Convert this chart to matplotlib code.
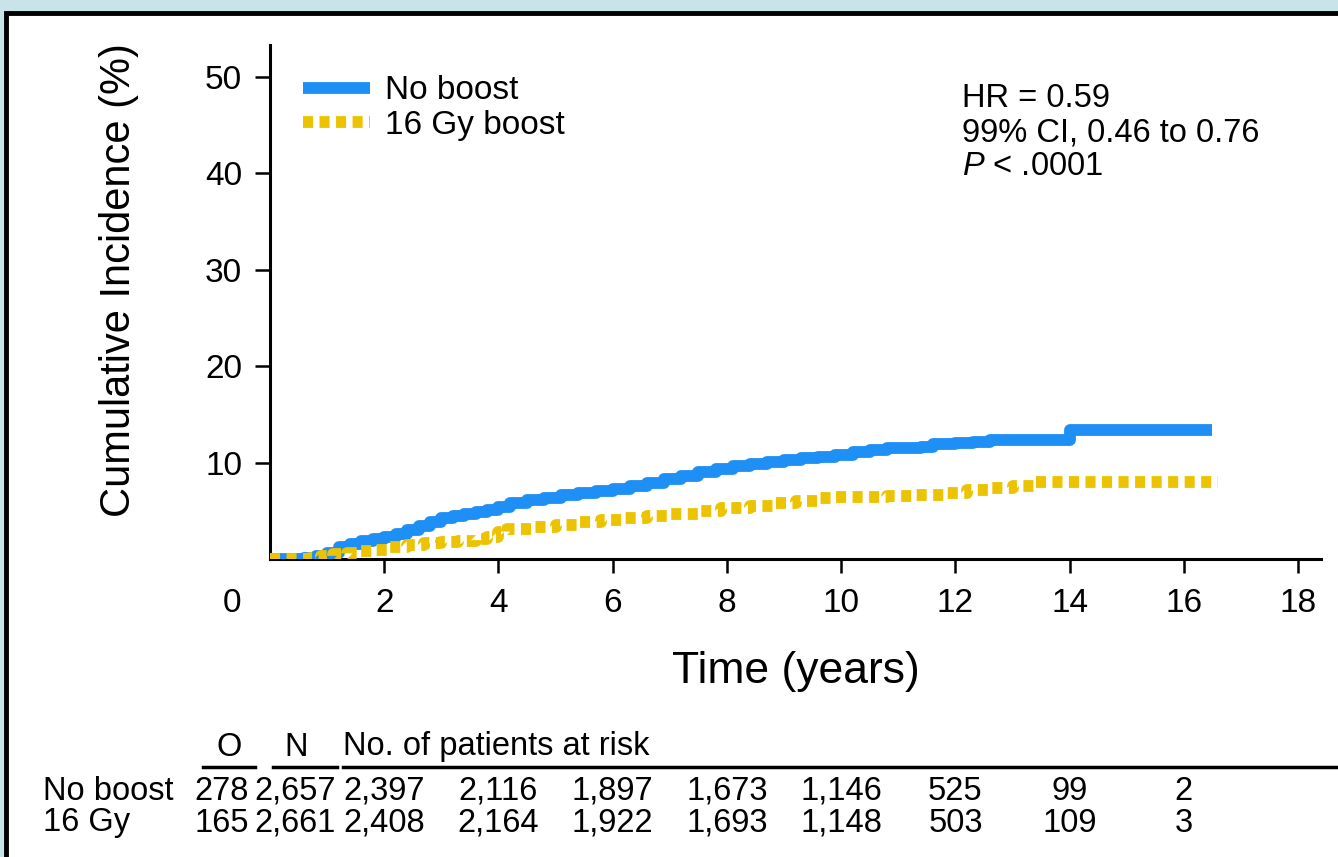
import matplotlib
matplotlib.use("Agg")
import matplotlib.pyplot as plt
from matplotlib.patches import Rectangle
from matplotlib.lines import Line2D
import matplotlib.transforms as mtransforms

# cumulative incidence curves (step data)
t_noboost = [0.0, 0.6, 0.8, 1.0, 1.2, 1.4, 1.6, 1.8, 2.0, 2.2, 2.4, 2.6, 2.8, 3.0,
             3.2, 3.4, 3.6, 3.8, 4.0, 4.2, 4.5, 4.8, 5.1, 5.4, 5.7, 6.0, 6.3, 6.6,
             6.9, 7.2, 7.5, 7.8, 8.1, 8.4, 8.7, 9.0, 9.3, 9.6, 9.9, 10.2, 10.5,
             10.8, 11.1, 11.4, 11.6, 12.0, 12.3, 12.6, 14.0, 16.5]
ci_noboost = [0.0, 0.1, 0.3, 0.6, 1.2, 1.6, 1.9, 2.1, 2.3, 2.6, 3.0, 3.4, 3.8, 4.2,
              4.5, 4.7, 4.9, 5.1, 5.4, 5.8, 6.1, 6.3, 6.6, 6.8, 7.0, 7.3, 7.6, 7.9,
              8.3, 8.6, 9.0, 9.3, 9.6, 9.9, 10.1, 10.3, 10.5, 10.6, 10.8, 11.1, 11.3,
              11.5, 11.5, 11.6, 11.9, 12.0, 12.1, 12.3, 13.4, 13.4]

t_boost = [0.0, 0.7, 0.9, 1.1, 1.35, 1.6, 1.8, 2.1, 2.4, 2.7, 3.0, 3.3, 3.6, 3.8,
           4.0, 4.15, 4.6, 5.0, 5.4, 5.8, 6.2, 6.6, 7.0, 7.5, 7.9, 8.4, 8.8, 9.2,
           9.6, 9.9, 10.8, 11.3, 11.8, 12.2, 12.6, 13.0, 13.4, 16.6]
ci_boost = [0.0, 0.1, 0.3, 0.5, 0.6, 0.8, 0.9, 1.2, 1.4, 1.7, 1.8, 1.9, 2.1, 2.3,
            2.8, 3.1, 3.3, 3.5, 3.8, 4.0, 4.2, 4.5, 4.7, 5.0, 5.3, 5.5, 5.8, 6.0,
            6.3, 6.4, 6.5, 6.6, 6.8, 7.2, 7.4, 7.6, 8.0, 8.0]

x_ticks = [2, 4, 6, 8, 10, 12, 14, 16, 18]
y_ticks = [10, 20, 30, 40, 50]

# numbers at risk table
risk_times = [2, 4, 6, 8, 10, 12, 14, 16]
groups = ["No boost", "16 Gy"]
observed = ["278", "165"]
n_total = ["2,657", "2,661"]
at_risk_noboost = ["2,397", "2,116", "1,897", "1,673", "1,146", "525", "99", "2"]
at_risk_boost = ["2,408", "2,164", "1,922", "1,693", "1,148", "503", "109", "3"]

BLUE = "#1e8ff5"
YELLOW = "#ecc300"

plt.rcParams["font.family"] = ["Liberation Sans", "DejaVu Sans"]
plt.rcParams["mathtext.fontset"] = "custom"
plt.rcParams["mathtext.it"] = "Liberation Sans:italic"
plt.rcParams["mathtext.rm"] = "Liberation Sans"

W, H = 1338, 857
fig = plt.figure(figsize=(W / 100, H / 100), dpi=100)
fig.patch.set_facecolor("#c8e4e8")
fig.add_artist(Rectangle((6 / W, -0.02), 1.1, 1.02 + (H - 12.5) / H - 1.0,
                         transform=fig.transFigure, facecolor="white",
                         edgecolor="black", lw=3.5, zorder=0))

ax = fig.add_axes([270 / W, (H - 559) / H, (1321 - 270) / W, 514 / H])
ax.set_facecolor("none")

ax.plot(t_noboost, ci_noboost, drawstyle="steps-post", color=BLUE, lw=8.5,
        solid_capstyle="butt", label="No boost", zorder=3)
ax.plot(t_boost, ci_boost, drawstyle="steps-post", color=YELLOW, lw=8.5,
        linestyle=(0, (0.85, 0.55)), dash_capstyle="butt", label="16 Gy boost", zorder=4)

ax.set_xlim(0, 18.4)
ax.set_ylim(0, 53.3)
ax.set_xticks(x_ticks)
ax.set_yticks(y_ticks)
ax.spines["top"].set_visible(False)
ax.spines["right"].set_visible(False)
for s in ("left", "bottom"):
    ax.spines[s].set_linewidth(2.2)
ax.tick_params(axis="x", direction="out", length=10, width=1.8, pad=11, labelsize=24)
ax.tick_params(axis="y", direction="out", length=11, width=1.8, pad=9, labelsize=24)
ax.annotate("0", xy=(0, 0), xycoords="axes fraction", xytext=(-38, -44),
            textcoords="offset pixels", ha="center", va="center", fontsize=24)

ax.set_xlabel("Time (years)", fontsize=32, va="center")
ax.xaxis.set_label_coords(0.5, (559 - 671) / 514)
ax.set_ylabel("Cumulative Incidence (%)", fontsize=30, va="center")
ax.yaxis.set_label_coords((119 - 270) / 1051, (559 - 280) / 514)

ax.legend(loc="upper left", bbox_to_anchor=((303 - 270) / 1051, 0.941), frameon=False,
          fontsize=24, handlelength=2.0, handletextpad=0.45, borderpad=0,
          borderaxespad=0, labelspacing=0.1)

ax.text((962 - 270) / 1051, (559 - 83) / 514,
        "HR = 0.59\n99% CI, 0.46 to 0.76\n$P$ < .0001",
        transform=ax.transAxes, ha="left", va="top", fontsize=23.5, linespacing=1.13)

# numbers at risk
blend = mtransforms.blended_transform_factory(ax.transData, fig.transFigure)
y_head = (H - 747) / H
y_line = (H - 767) / H
y_rows = [(H - 791) / H, (H - 823) / H]
fs = 23.5
fig.text(229 / W, y_head, "O", ha="center", va="center", fontsize=fs)
fig.text(296 / W, y_head, "N", ha="center", va="center", fontsize=fs)
fig.text(343 / W, y_head, "No. of patients at risk", ha="left", va="center", fontsize=fs)
for x0, x1 in [(203, 255), (273, 337), (343, 1345)]:
    fig.add_artist(Line2D([x0 / W, x1 / W], [y_line, y_line], color="black",
                          lw=2.5, transform=fig.transFigure))
rows = [at_risk_noboost, at_risk_boost]
for i, y in enumerate(y_rows):
    fig.text(43 / W, y, groups[i], ha="left", va="center", fontsize=fs)
    fig.text(249 / W, y, observed[i], ha="right", va="center", fontsize=fs)
    fig.text(336 / W, y, n_total[i], ha="right", va="center", fontsize=fs)
    for t, v in zip(risk_times, rows[i]):
        ax.text(t, y, v, transform=blend, ha="center", va="center", fontsize=fs)

fig.savefig("out.png", dpi=100, facecolor=fig.get_facecolor())
